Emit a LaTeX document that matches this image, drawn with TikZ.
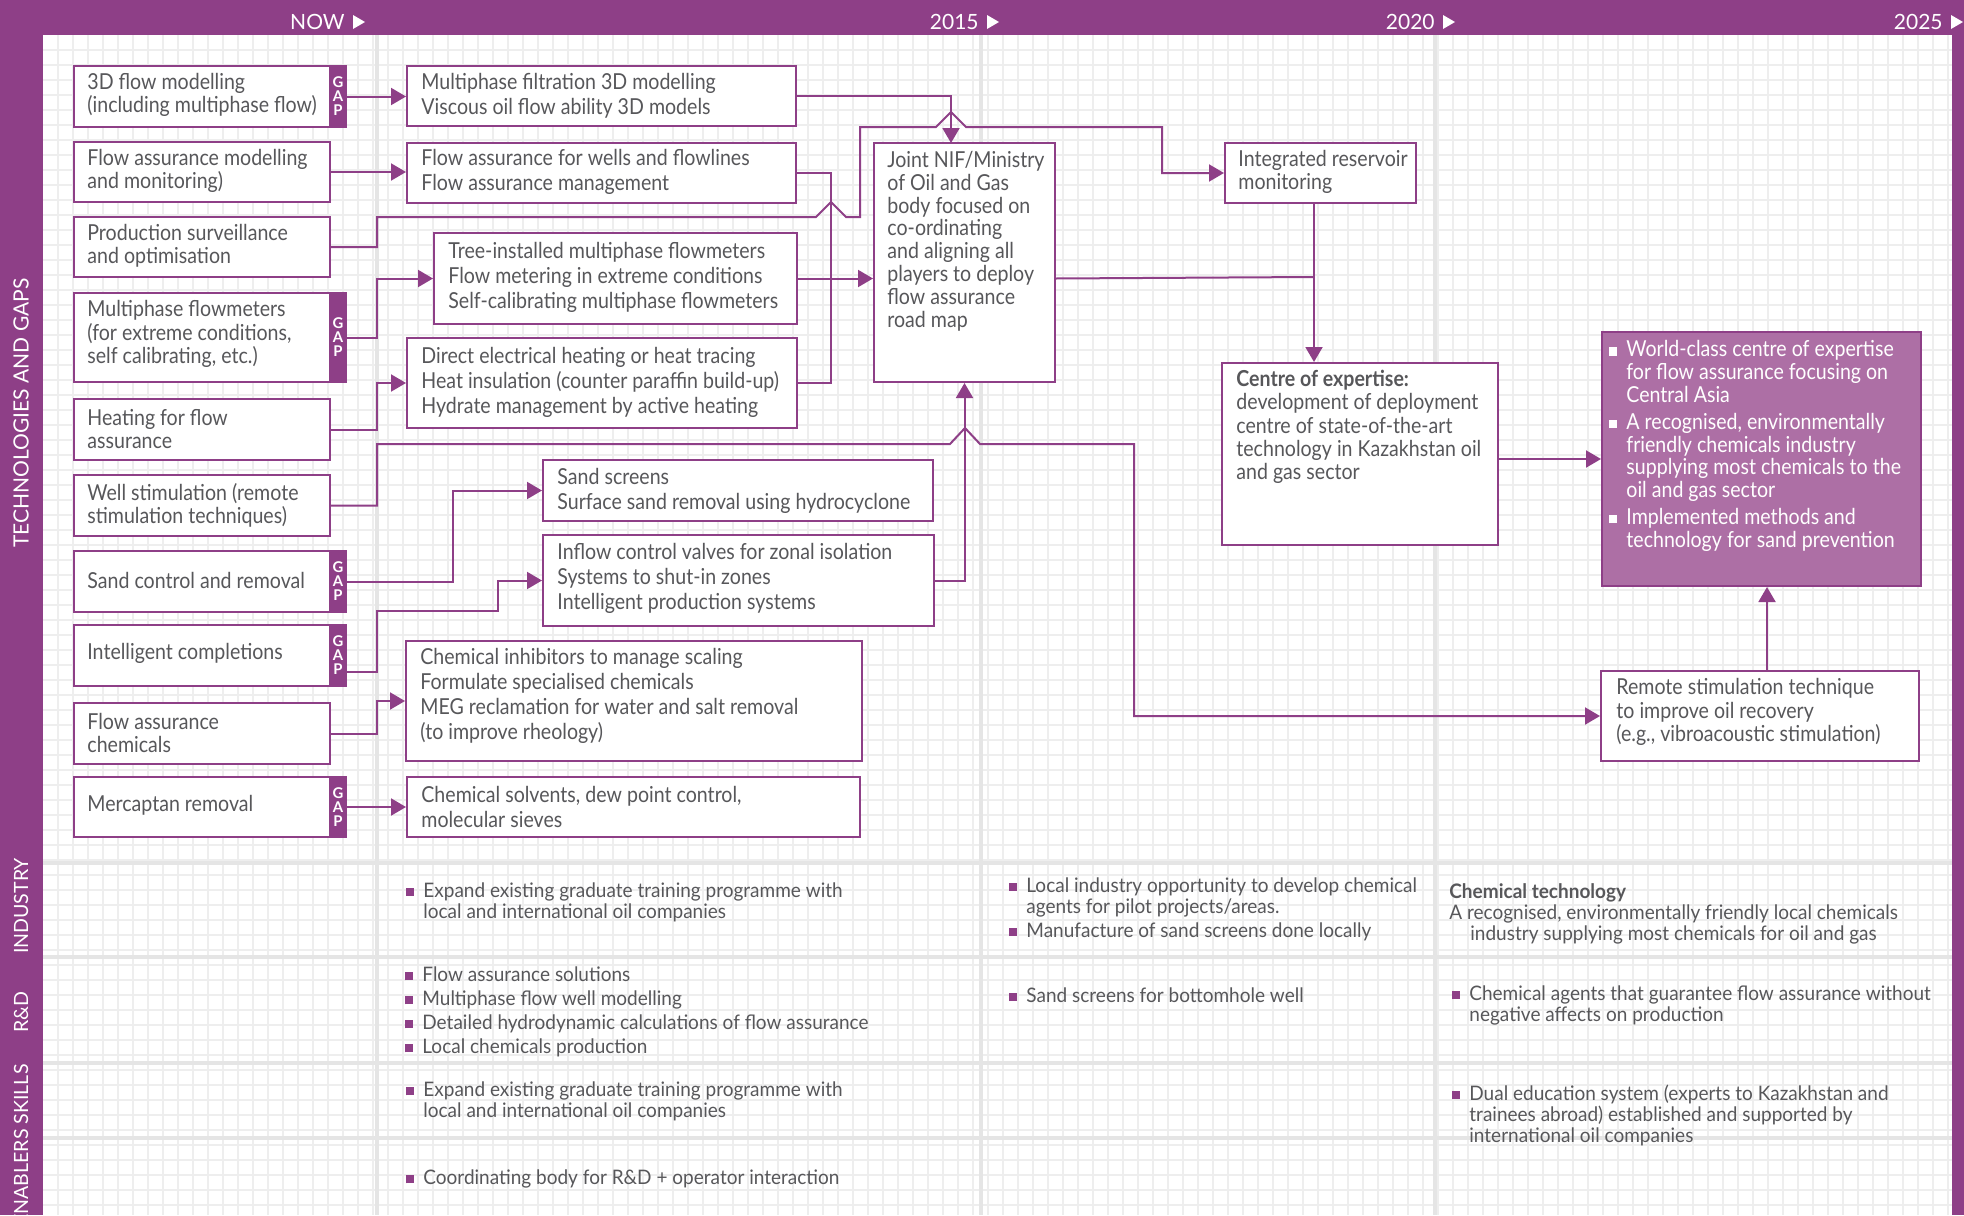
\documentclass[tikz,border=0pt]{standalone}
\usepackage{fontspec}
\setmainfont{Lato}[FakeStretch=0.89]
\newfontfamily\condfont{Lato}[FakeStretch=0.95]
\newfontfamily\capsfont{Lato}
\usetikzlibrary{arrows.meta,fit,calc}

\definecolor{plum}{HTML}{8E3F87}
\definecolor{plumsoft}{HTML}{AD6FA5}
\definecolor{ink}{HTML}{57575A}
\definecolor{gridgray}{HTML}{EEEEEE}
\definecolor{sepgray}{HTML}{E5E5E5}

% square bullet with a fixed hanging width
\newcommand\sqbullet[1][plum]{\makebox[8.5pt][l]{\textcolor{#1}{\rule[0.6pt]{4pt}{4.2pt}}}}
\newcommand\hang{\hspace*{8.5pt}}

\begin{document}
\begin{tikzpicture}[x=0.5pt,y=-0.5pt,
  gridline/.style={draw=gridgray,line width=0.7pt},
  sepline/.style={draw=sepgray,line width=2.2pt},
  box/.style={draw=plum,line width=1pt,fill=white,inner sep=0pt},
  gapbar/.style={draw=plum,line width=1pt,fill=plum,inner sep=0pt},
  goalbox/.style={draw=plum,line width=1pt,fill=plumsoft,inner sep=0pt},
  gaptxt/.style={text=white,align=center,inner sep=0pt,font=\capsfont\fontsize{7.4}{7}\selectfont\bfseries},
  yearlbl/.style={text=white,anchor=east,inner sep=0pt,font=\capsfont\fontsize{10.5}{10.5}\selectfont},
  sidelbl/.style={rotate=90,text=white,inner sep=0pt,font=\capsfont\fontsize{10.5}{10.5}\selectfont},
  sidesmall/.style={sidelbl,font=\capsfont\fontsize{9.8}{9.8}\selectfont},
  lbl/.style={anchor=west,align=left,inner sep=0pt,text=ink,font=\fontsize{11}{11.6}\selectfont},
  lbltwo/.style={lbl,font=\fontsize{11}{12.5}\selectfont},
  lbljoint/.style={lbl,font=\fontsize{11}{11.4}\selectfont},
  goaltxt/.style={lbl,text=white,font=\fontsize{11}{11.35}\selectfont},
  bot/.style={anchor=west,align=left,inner sep=0pt,text=ink,font=\condfont\fontsize{10}{10.5}\selectfont},
  conn/.style={draw=plum,line width=1pt},
  arr/.style={conn,-{Triangle[length=7.5pt,width=8.5pt]}}
]
\useasboundingbox (0,0) rectangle (1964,1215);

% ---------- background grid, separators and frame ----------
\begin{scope}
\clip (0,0) rectangle (1964,1215);
\fill[white] (43,35) rectangle (1952,1215);
\foreach \i in {1,...,127} \draw[gridline] ({43+15*\i},35) -- ({43+15*\i},1215);
\foreach \j in {1,...,78} \draw[gridline] (43,{35+15*\j}) -- (1952,{35+15*\j});
\foreach \xx in {377,981,1435} \draw[sepline] (\xx,35) -- (\xx,1215);
\foreach \yy in {863,957,1063,1138} \draw[sepline] (43,\yy) -- (1952,\yy);
\fill[plum] (0,0) rectangle (1964,35);
\fill[plum] (0,0) rectangle (43,1215);
\fill[plum] (1952,0) rectangle (1964,1215);

\node[sidelbl] (stech) at (21,413) {TECHNOLOGIES AND GAPS};
\node[sidesmall] (sind) at (21,906) {INDUSTRY};
\node[sidesmall] (srd) at (21,1012) {R\&D};
\node[sidesmall,anchor=east] (senab) at (21,1064) {ENABLERS SKILLS};
\end{scope}

% ---------- time axis ----------
\node[yearlbl] (ynow) at (345,22) {NOW};
\node[yearlbl] (y15) at (979,22) {2015};
\node[yearlbl] (y20) at (1435,22) {2020};
\node[yearlbl] (y25) at (1943,22) {2025};
\foreach \y in {ynow,y15,y20,y25}
  \fill[white] ($(\y.east)+(8,-7)$) -- ++(12,7) -- ++(-12,7) -- cycle;

% ---------- technologies ----------
\node[box,fit={(74,66) (330,127)}] (l1) {};
\node[gapbar,fit={(330,66) (346,127)}] (g1) {};
\node[box,fit={(74,142) (330,202)}] (l2) {};
\node[box,fit={(74,217) (330,277)}] (l3) {};
\node[box,fit={(74,293) (330,382)}] (l4) {};
\node[gapbar,fit={(330,293) (346,382)}] (g4) {};
\node[box,fit={(74,399) (330,460)}] (l5) {};
\node[box,fit={(74,475) (330,536)}] (l6) {};
\node[box,fit={(74,551) (330,612)}] (l7) {};
\node[gapbar,fit={(330,551) (346,612)}] (g7) {};
\node[box,fit={(74,625) (330,686)}] (l8) {};
\node[gapbar,fit={(330,625) (346,686)}] (g8) {};
\node[box,fit={(74,703) (330,764)}] (l9) {};
\node[box,fit={(74,777) (330,837)}] (l10) {};
\node[gapbar,fit={(330,777) (346,837)}] (g10) {};
\foreach \g in {g1,g4,g7,g8,g10} \node[gaptxt] (\g t) at (\g) {G\\A\\P};

\node[lbl] (tl1) at (87,95) {3D flow modelling\\(including multiphase flow)};
\node[lbl] (tl2) at (87,171) {Flow assurance modelling\\and monitoring)};
\node[lbl] (tl3) at (87,246) {Production surveillance\\and optimisation};
\node[lbl] (tl4) at (87,334) {Multiphase flowmeters\\(for extreme conditions,\\self calibrating, etc.)};
\node[lbl] (tl5) at (87,429) {Heating for flow\\assurance};
\node[lbl] (tl6) at (87,505) {Well stimulation (remote\\stimulation techniques)};
\node[lbl] (tl7) at (87,580) {Sand control and removal};
\node[lbl] (tl8) at (87,653) {Intelligent completions};
\node[lbl] (tl9) at (87,733) {Flow assurance\\chemicals};
\node[lbl] (tl10) at (87,805) {Mercaptan removal};

% ---------- solutions ----------
\node[box,fit={(407,66) (796,126)}] (c1) {};
\node[box,fit={(407,143) (796,203)}] (c2) {};
\node[box,fit={(434,233) (797,324)}] (c3) {};
\node[box,fit={(407,338) (797,428)}] (c4) {};
\node[box,fit={(543,460) (933,521)}] (c5) {};
\node[box,fit={(543,535) (934,626)}] (c6) {};
\node[box,fit={(406,641) (862,761)}] (c7) {};
\node[box,fit={(407,777) (860,837)}] (c8) {};

\node[lbltwo] (tc1) at (421,95.5) {Multiphase filtration 3D modelling\\Viscous oil flow ability 3D models};
\node[lbltwo] (tc2) at (421,172) {Flow assurance for wells and flowlines\\Flow assurance management};
\node[lbltwo] (tc3) at (448,277) {Tree-installed multiphase flowmeters\\Flow metering in extreme conditions\\Self-calibrating multiphase flowmeters};
\node[lbltwo] (tc4) at (421,382) {Direct electrical heating or heat tracing\\Heat insulation (counter paraffin build-up)\\Hydrate management by active heating};
\node[lbltwo] (tc5) at (557,491) {Sand screens\\Surface sand removal using hydrocyclone};
\node[lbltwo] (tc6) at (557,578) {Inflow control valves for zonal isolation\\Systems to shut-in zones\\Intelligent production systems};
\node[lbltwo] (tc7) at (420,696) {Chemical inhibitors to manage scaling\\Formulate specialised chemicals\\MEG reclamation for water and salt removal\\(to improve rheology)};
\node[lbltwo] (tc8) at (421,807) {Chemical solvents, dew point control,\\molecular sieves};

% ---------- coordination and outcomes ----------
\node[box,fit={(874,143) (1055,382)}] (joint) {};
\node[box,fit={(1225,143) (1416,203)}] (integ) {};
\node[box,fit={(1222,363) (1498,545)}] (centre) {};
\node[goalbox,fit={(1602,332) (1921,586)}] (goal) {};
\node[box,fit={(1601,671) (1919,761)}] (remote) {};

\node[lbljoint] (tjoint) at (887,241) {Joint NIF/Ministry\\of Oil and Gas\\body focused on\\co-ordinating\\and aligning all\\players to deploy\\flow assurance\\road map};
\node[lbl] (tinteg) at (1238,172) {Integrated reservoir\\monitoring};
\node[lbl] (tcentre) at (1236,427) {\textbf{Centre of expertise:}\\development of deployment\\centre of state-of-the-art\\technology in Kazakhstan oil\\and gas sector};
\node[goaltxt] (tgoal) at (1609,446) {\sqbullet[white]World-class centre of expertise\\\hang for flow assurance focusing on\\\hang Central Asia\\[2.2pt]\sqbullet[white]A recognised, environmentally\\\hang friendly chemicals industry\\\hang supplying most chemicals to the\\\hang oil and gas sector\\[2.2pt]\sqbullet[white]Implemented methods and\\\hang technology for sand prevention};
\node[lbl] (tremote) at (1616,712) {Remote stimulation technique\\to improve oil recovery\\(e.g., vibroacoustic stimulation)};

% ---------- connectors ----------
\coordinate (bus) at (377,0);
\coordinate (jtop) at (951,143);
\coordinate (jx) at (1314,277);
\coordinate (rx) at (1767,0);

\draw[arr] (g1.east) -- (c1.west |- g1.east);
\draw[arr] (l2.east) -- (c2.west |- l2.east);
\draw[arr] (l3.east) -| (377,217) -- (816,217) -- ++(15,-15) -- ++(15,15) -- (860,217)
   |- (936,127) -- ++(15,-15) -- ++(15,15) -| (1162,173) -- (integ.west);
\draw[arr] (c1.east) -| (jtop);
\draw[conn] (c2.east) -| (831,383) -- (c4.east);
\draw[arr] (c3.east) -- (c3.east -| joint.west);
\draw[arr] (g4.east) -| (bus |- c3.west) -- (c3.west);
\draw[arr] (l5.east) -| (bus |- c4.west) -- (c4.west);
\draw[arr] (l6.east) -| (377,444) -- (950,444) -- ++(15,-16) -- ++(15,16) -| (1134,716) -- (remote.west);
\draw[arr] (c6.east) -| (joint.south);
\draw[arr] (g7.east) -| (453,490.5) -- (c5.west);
\draw[arr] ([yshift=-8.25pt]g8.east) -| (377,611) -- (498,611) |- (c6.west);
\draw[arr] (l9.east) -| (bus |- c7.west) -- (c7.west);
\draw[arr] (g10.east) -- (c8.west |- g10.east);
\draw[conn] (c3.east -| joint.east) -- (jx);
\draw[arr] (integ.south -| jx) -- (centre.north -| jx);
\draw[arr] (goal.west -| centre.east) -- (goal.west);
\draw[arr] (remote.north -| rx) -- (goal.south -| rx);

% ---------- enablers ----------
\node[bot] (ind2) at (406,902) {\sqbullet Expand existing graduate training programme with\\\hang local and international oil companies};
\node[bot] (ind3) at (1009,909) {\sqbullet Local industry opportunity to develop chemical\\\hang agents for pilot projects/areas.\\[1.5pt]\sqbullet Manufacture of sand screens done locally};
\node[bot] (ind4) at (1449,914) {\textbf{Chemical technology}\\A recognised, environmentally friendly local chemicals\\\hspace*{10.5pt}industry supplying most chemicals for oil and gas};
\node[bot] (rd2) at (405,1012) {\sqbullet Flow assurance solutions\\[1.5pt]\sqbullet Multiphase flow well modelling\\[1.5pt]\sqbullet Detailed hydrodynamic calculations of flow assurance\\[1.5pt]\sqbullet Local chemicals production};
\node[bot] (rd3) at (1009,995) {\sqbullet Sand screens for bottomhole well};
\node[bot] (rd4) at (1452,1005.5) {\sqbullet Chemical agents that guarantee flow assurance without\\\hang negative affects on production};
\node[bot] (sk2) at (406,1101.5) {\sqbullet Expand existing graduate training programme with\\\hang local and international oil companies};
\node[bot] (sk4) at (1452,1115.5) {\sqbullet Dual education system (experts to Kazakhstan and\\\hang trainees abroad) established and supported by\\\hang international oil companies};
\node[bot] (pol2) at (406,1179) {\sqbullet Coordinating body for R\&D + operator interaction};
\end{tikzpicture}
\end{document}
